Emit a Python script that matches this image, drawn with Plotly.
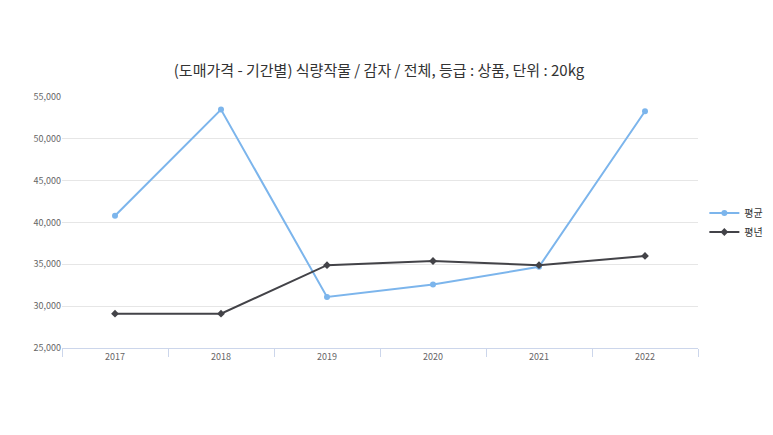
import plotly.graph_objects as go

years = ["2017", "2018", "2019", "2020", "2021", "2022"]
avg_price = [40800, 53500, 31100, 32600, 34700, 53300]
normal_price = [29100, 29100, 34900, 35400, 34900, 36000]

fig = go.Figure()
fig.add_trace(go.Scatter(x=years, y=avg_price, name="평균", mode="lines+markers",
                         line=dict(color="#7cb5ec", width=2), marker=dict(size=6, symbol="circle")))
fig.add_trace(go.Scatter(x=years, y=normal_price, name="평년", mode="lines+markers",
                         line=dict(color="#434348", width=2), marker=dict(size=6, symbol="diamond")))

fig.update_layout(
    width=773, height=435,
    paper_bgcolor="white", plot_bgcolor="white",
    font=dict(family="Noto Sans CJK KR", color="#666666", size=9),
    title=dict(text="(도매가격 - 기간별) 식량작물 / 감자 / 전체, 등급 : 상품, 단위 : 20kg",
               x=0.48, xanchor="center", y=0.855, yanchor="middle",
               font=dict(size=15, color="#333333")),
    margin=dict(l=54, r=83, t=89, b=95),
    legend=dict(x=1.01, y=0.5, xanchor="left", yanchor="middle",
                font=dict(size=10, color="#333333"), tracegroupgap=4),
    xaxis=dict(type="category", range=[-0.5, 5.5], showgrid=False,
               showline=True, linecolor="#ccd6eb", ticks="outside", tickcolor="#ccd6eb",
               tickson="boundaries", ticklen=8),
    yaxis=dict(range=[25000, 55000], dtick=5000, tickformat=",", gridcolor="#e6e6e6",
               zeroline=False),
)
fig.write_html("out.html")
